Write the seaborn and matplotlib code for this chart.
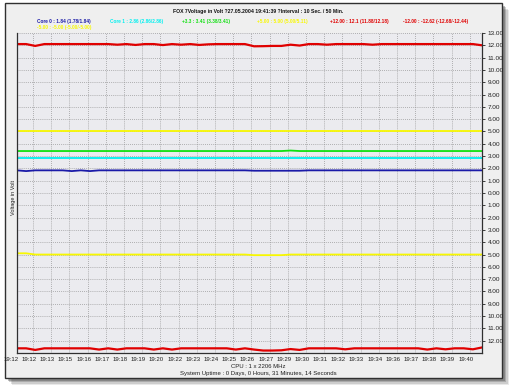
import numpy as np
import pandas as pd
import matplotlib
matplotlib.use("Agg")
import matplotlib.pyplot as plt
import matplotlib.transforms as mtransforms
from matplotlib.patches import Rectangle
import seaborn as sns

# ---------------- data ----------------
time_labels = ["19:12", "19:12", "19:13", "19:15", "19:16", "19:17", "19:18", "19:19",
               "19:20", "19:22", "19:23", "19:24", "19:25", "19:26", "19:27", "19:29",
               "19:30", "19:31", "19:32", "19:33", "19:34", "19:36", "19:37", "19:38",
               "19:39", "19:40"]

plus12 = [12.1, 12.1, 11.95, 12.1, 12.1, 12.1, 12.1, 12.1, 12.1, 12.1,
          12.1, 12.05, 12.1, 12.03, 12.1, 12.1, 12.02, 12.1, 12.05, 12.1,
          12.03, 12.08, 12.1, 12.1, 12.1, 12.1, 11.92, 11.93, 11.95, 11.95,
          12.05, 11.98, 12.1, 12.1, 12.05, 12.1, 12.1, 12.1, 12.1, 12.05,
          12.1, 12.1, 12.1, 12.1, 12.1, 12.1, 12.1, 12.1, 12.1, 12.1,
          12.1, 12.0]
minus12 = [-12.62, -12.62, -12.75, -12.62, -12.62, -12.62, -12.62, -12.62, -12.62, -12.72,
           -12.62, -12.72, -12.62, -12.62, -12.62, -12.72, -12.62, -12.72, -12.62, -12.62,
           -12.62, -12.62, -12.62, -12.62, -12.72, -12.62, -12.72, -12.80, -12.80, -12.78,
           -12.68, -12.75, -12.62, -12.62, -12.62, -12.62, -12.70, -12.62, -12.62, -12.62,
           -12.62, -12.62, -12.62, -12.62, -12.62, -12.72, -12.62, -12.70, -12.62, -12.62,
           -12.70, -12.55]
plus5 = [5.0] * 52
minus5 = [-4.9, -4.9, -5.0, -5.0, -5.0, -5.0, -5.0, -5.0, -5.0, -5.0,
          -5.0, -5.0, -5.0, -5.0, -5.0, -5.0, -5.0, -5.0, -5.0, -5.0,
          -5.0, -5.0, -5.0, -5.0, -5.0, -5.0, -5.05, -5.05, -5.05, -5.05,
          -5.0, -5.0, -5.0, -5.0, -5.0, -5.0, -5.0, -5.0, -5.0, -5.0,
          -5.0, -5.0, -5.0, -5.0, -5.0, -5.0, -5.0, -5.0, -5.0, -5.0,
          -5.0, -5.0]
plus33 = [3.41] * 30 + [3.45] + [3.41] * 21
core1 = [2.86] * 52
core0 = [1.84, 1.78, 1.84, 1.84, 1.84, 1.84, 1.78, 1.84, 1.78, 1.84,
         1.84, 1.84, 1.84, 1.84, 1.84, 1.84, 1.84, 1.84, 1.84, 1.84,
         1.84, 1.84, 1.84, 1.84, 1.84, 1.84, 1.81, 1.81, 1.81, 1.81,
         1.81, 1.81, 1.84, 1.84, 1.84, 1.84, 1.84, 1.84, 1.84, 1.84,
         1.84, 1.84, 1.84, 1.84, 1.84, 1.84, 1.84, 1.84, 1.84, 1.84,
         1.84, 1.84]

series_names = ["Core 0", "Core 1", "+3.3", "+5.00", "+12.00", "-12.00", "-5.00"]
series_values = [core0, core1, plus33, plus5, plus12, minus12, minus5]
series_colors = ["#1a1aa8", "#00f0f0", "#10e010", "#f8f800", "#e00000", "#e00000", "#f8f800"]
legend_texts = ["Core 0 : 1.84 (1.78/1.84)", "Core 1 : 2.86 (2.86/2.86)",
                "+3.3 : 3.41 (3.38/3.41)", "+5.00 : 5.00 (5.00/5.11)",
                "+12.00 : 12.1 (11.88/12.18)", "-12.00 : -12.62 (-12.68/-12.44)",
                "-5.00 : -5.00 (-5.00/-5.00)"]

title = "FOX 7Voltage in Volt ?27.05.2004 19:41:39 ?Interval : 10 Sec. / 50 Min."
footer1 = "CPU : 1 x 2206 MHz"
footer2 = "System Uptime : 0 Days, 0 Hours, 31 Minutes, 14 Seconds"

# ---------------- build frame ----------------
n = len(core0)
rows = []
for name, vals in zip(series_names, series_values):
    for i, v in enumerate(vals):
        rows.append({"sample": i, "value": v, "series": name})
df = pd.DataFrame(rows)

sns.set_style("white")
plt.rcParams["font.family"] = ["Liberation Sans", "DejaVu Sans"]

W, H = 512, 387
fig = plt.figure(figsize=(W / 100, H / 100), dpi=100)
fig.patch.set_facecolor("white")

# drop shadow + panel
for k, a in enumerate([0.10, 0.15, 0.22, 0.30]):
    off = 7 - k * 1.5
    fig.patches.append(Rectangle(((5 + off) / W, 1 - (378 + off) / H), 497 / W, 375 / H,
                                 transform=fig.transFigure, facecolor="#303030",
                                 edgecolor="none", alpha=a, zorder=0))
fig.patches.append(Rectangle((5 / W, 1 - 378 / H), 497 / W, 375 / H,
                             transform=fig.transFigure, facecolor="#efefef",
                             edgecolor="#303030", lw=1.0, zorder=1))

left_px, right_px, top_px, bot_px = 17, 482, 33, 353
ax = fig.add_axes([left_px / W, 1 - bot_px / H, (right_px - left_px) / W, (bot_px - top_px) / H])
ax.set_zorder(2)
ax.set_facecolor("#ebebef")

palette = dict(zip(series_names, series_colors))
sns.lineplot(data=df, x="sample", y="value", hue="series", palette=palette,
             hue_order=series_names, legend=False, ax=ax, linewidth=1.3)
for line, name in zip(ax.get_lines(), series_names):
    if name in ("+12.00", "-12.00"):
        line.set_linewidth(1.6)

# x axis: sample index spans the plot; gridlines in 25 equal steps
x0, x1 = 0, n - 1
ax.set_xlim(x0, x1)
step = (x1 - x0) / 25.55
grid_x = [x0 + (0.88 + k) * step for k in range(25)]
ax.set_xticks(grid_x)
ax.set_xticklabels([])
ax.tick_params(axis="x", length=0)
lab_x = [x0 + (0.88 + k - 1) * step for k in range(26)]
shift = mtransforms.ScaledTranslation(-4 / 100, 0, fig.dpi_scale_trans)
btrans = mtransforms.blended_transform_factory(ax.transData, ax.transAxes) + shift
for xv, lab in zip(lab_x, time_labels):
    ax.text(xv, -0.012, lab, transform=btrans, ha="center", va="top",
            fontsize=4.3, color="#202020", clip_on=False)

# y axis on the right with absolute labels
ax.set_ylim(-13, 13)
yt = list(range(13, -13, -1))
ax.set_yticks(yt)
ax.set_yticklabels([f"{abs(v):.2f}" for v in yt])
ax.yaxis.tick_right()
ax.tick_params(axis="y", length=2.5, width=0.6, pad=1.5, labelsize=4.6,
               colors="#202020", right=True, left=False)
ax.set_xlabel("")
ax.set_ylabel("")

ax.grid(True, color="#8a8a8a", linestyle=(0, (1.2, 1.8)), linewidth=0.5)
ax.set_axisbelow(True)
for s in ["left", "right", "bottom"]:
    ax.spines[s].set_color("#303030")
    ax.spines[s].set_linewidth(0.9)
ax.spines["top"].set_visible(False)

fig.text(13 / W, 1 - 197 / H, "Voltage in Volt", rotation=90, ha="center", va="center",
         fontsize=4.0, color="#202020", zorder=3)

# title and legend texts
fig.text(258 / W, 1 - 12 / H, title, ha="center", va="center", fontsize=3.7,
         fontweight="bold", color="#101010", zorder=3)
legend_pos = [(37, 21), (110, 21), (182, 21), (257, 21), (330, 21), (403, 21), (37, 28)]
for (px, py), txt, col in zip(legend_pos, legend_texts, series_colors):
    fig.text(px / W, 1 - py / H, txt, ha="left", va="center", fontsize=3.4,
             fontweight="bold", color=col, zorder=3)

fig.text(258 / W, 1 - 366 / H, footer1, ha="center", va="center", fontsize=4.3,
         color="#202020", zorder=3)
fig.text(258 / W, 1 - 374 / H, footer2, ha="center", va="center", fontsize=4.3,
         color="#202020", zorder=3)

fig.savefig("out.png", dpi=100)
